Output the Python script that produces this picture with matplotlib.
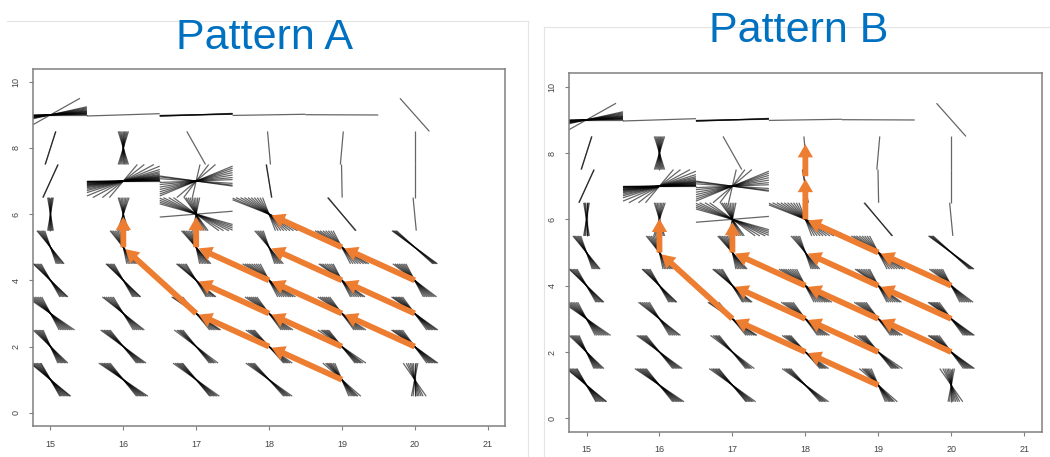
import numpy as np
import matplotlib
matplotlib.use("Agg")
import matplotlib.pyplot as plt
from matplotlib.collections import LineCollection
from matplotlib.lines import Line2D

plt.rcParams['font.family'] = ['Liberation Sans', 'DejaVu Sans']

# cell centres along x; every row below holds one list of line angles per x
grid_x = [15, 16, 17, 18, 19, 20]

# angles in degrees (data space) of the lines drawn through each cell centre
row_y1 = [
    [104.5, 106, 108, 110, 112, 114, 116, 118, 119],
    [110, 112, 114, 116, 118, 120, 122, 124],
    [110.5, 112, 114, 116, 118, 120, 122.5],
    [112, 114, 116, 118, 120, 122.5],
    [101, 103.5, 106, 108, 110, 112, 114, 117.5],
    [85, 87.5, 90, 92, 94.5, 97, 100, 103, 107.5],
]
row_y2 = [
    [101.5, 103.5, 105.5, 107.5, 109.5, 111.5, 113.5, 115.5],
    [110, 112, 114, 116, 118, 120, 122],
    [110, 112, 114, 116, 118, 121],
    [112, 114, 116, 118, 120, 122.5],
    [110, 112, 114, 116, 118, 120, 123.5],
    [108.5, 111, 113, 115, 117, 119, 121, 122.5],
]
row_y3 = [
    [103.5, 106, 108.5, 111, 113.5, 116, 118.5, 121, 123.5],
    [105.5, 108, 110.5, 113, 115.5, 118, 120],
    [110.5, 113, 115.5, 118, 120.5, 122.5, 124],
    [108.5, 111, 113.5, 116, 118.5, 121, 123.5],
    [108.5, 111, 113.5, 116, 118.5, 121, 123.5],
    [108.5, 111, 113, 115, 117, 119, 121, 122.5],
]
row_y4 = [
    [104.5, 106.5, 108.5, 110.5, 112.5, 114.5, 115.5],
    [104.5, 106.5, 108.5, 110.5, 112.5, 114.5, 115.5],
    [105.5, 107.5, 110, 112.5, 115, 117, 118.5],
    [103.5, 106.5, 109.5, 112.5, 115.5, 118.5, 121, 123.5, 126],
    [103.5, 106, 109, 112, 115, 118, 120.5, 122.5],
    [103.5, 106, 108.5, 111, 113.5, 116, 118.5, 121],
]
row_y5 = [
    [99, 101, 103, 105, 107, 109, 110.5],
    [95.5, 98, 100.5, 103, 105.5, 108, 110],
    [95.5, 98, 100.5, 103, 105.5, 108, 110, 112],
    [99, 101.5, 104, 106.5, 109, 111.5],
    [103.5, 107, 110.5, 114, 117.5, 121, 124, 126.5],
    [116.5, 118, 119.5, 121, 122],
]
row_y6 = [
    [85.5, 87, 88.5, 90, 91.5, 93, 94.5],
    [81, 83.5, 86, 88.5, 91, 93.5, 96, 98],
    [10, 84.5, 87.5, 90.5, 93.5, 96.5, 99.5, 102.5, 105.5, 108,
     122, 127, 132, 136, 140, 144, 148],
    [100, 104, 108, 112, 116, 120, 124, 128, 132, 136, 139],
    [110.5, 111.5],
    [92.5],
]
row_y7 = [
    [78, 78.5],
    [0, 1, 2, 3, 4, 6, 8, 10, 12, 14, 16, 19, 22, 26, 30, 35, 42, 50, 60, 69],
    [163, 166, 172, 5, 12, 20, 27, 33, 38, 42, 62, 71, 84],
    [94, 94.5],
    [90.5],
    [90],
]
row_y8 = [
    [81.5, 82],
    [82, 84, 86, 88, 90, 92, 94, 96, 98],
    [104.4],
    [92.3],
    [87.7],
    [90],
]
row_y9 = [
    [0, 1.5, 3, 4.5, 6, 8, 10, 12, 14, 17, 20, 23, 26, 51],
    [4],
    [2, 3, 4, 5],
    [2],
    [179.5],
    [112],
]
rows = {1: row_y1, 2: row_y2, 3: row_y3, 4: row_y4, 5: row_y5,
        6: row_y6, 7: row_y7, 8: row_y8, 9: row_y9}

# orange arrow chains (grid points visited in order)
chains_a = [
    [(19, 1), (18, 2), (17, 3), (16, 5), (16, 6)],
    [(19, 2), (18, 3), (17, 4)],
    [(20, 2), (19, 3), (18, 4), (17, 5), (17, 6)],
    [(20, 3), (19, 4), (18, 5)],
    [(20, 4), (19, 5), (18, 6)],
]
chains_b = [
    [(19, 1), (18, 2), (17, 3), (16, 5), (16, 6.1)],
    [(19, 2), (18, 3), (17, 4)],
    [(20, 2), (19, 3), (18, 4), (17, 5), (17, 6)],
    [(20, 3), (19, 4), (18, 5)],
    [(20, 4), (19, 5), (18, 6), (18, 7.3), (18, 8.35)],
]

W, H = 1050, 457
fig = plt.figure(figsize=(W / 100, H / 100), dpi=100)


def fan_segments():
    segs = []
    for cy, row in rows.items():
        for cx, angles in zip(grid_x, row):
            for a in angles:
                dx, dy = np.cos(np.radians(a)), np.sin(np.radians(a))
                t = min(0.5 / abs(dx) if abs(dx) > 1e-9 else 1e9,
                        0.5 / abs(dy) if abs(dy) > 1e-9 else 1e9)
                segs.append([(cx - t * dx, cy - t * dy), (cx + t * dx, cy + t * dy)])
    return segs


def draw_panel(rect, chains):
    ax = fig.add_axes(rect)
    ax.set_xlim(14.76, 21.24)
    ax.set_ylim(-0.4, 10.4)
    ax.add_collection(LineCollection(fan_segments(), colors='black',
                                     linewidths=0.9, alpha=0.6))
    for chain in chains:
        for p, q in zip(chain[:-1], chain[1:]):
            ax.annotate('', xy=q, xytext=p,
                        arrowprops=dict(arrowstyle='simple,head_length=0.95,head_width=1.1,tail_width=0.42',
                                        mutation_scale=10, color='#ED7D31',
                                        shrinkA=0, shrinkB=2, lw=0),
                        zorder=5)
    ax.set_xticks(range(15, 22))
    ax.set_yticks(range(0, 11, 2))
    for s in ax.spines.values():
        s.set_color('#808080')
        s.set_linewidth(1.1)
    ax.tick_params(length=3, width=0.8, color='#808080', labelsize=6.5,
                   labelcolor='#444444')
    ax.tick_params(axis='x', pad=7)
    ax.tick_params(axis='y', pad=6)
    for lab in ax.get_yticklabels():
        lab.set_rotation(90)
        lab.set_va('center')
    return ax


draw_panel([33 / W, 1 - 426 / H, 472 / W, 357.5 / H], chains_a)
draw_panel([569 / W, 1 - 431.6 / H, 472.7 / W, 358.2 / H], chains_b)

# faint screenshot borders
frame = '#e4e4e4'
for xs, ys in [([7, 528], [21, 21]), ([528, 528], [21, H]),
               ([544, W], [27, 27]), ([544, 544], [27, H])]:
    fig.add_artist(Line2D([x / W for x in xs], [1 - y / H for y in ys],
                          color=frame, lw=0.8, zorder=0))

fig.text(265 / W, 1 - 49 / H, 'Pattern A', ha='center', va='baseline',
         fontsize=31, color='#0070C0')
fig.text(799 / W, 1 - 41.7 / H, 'Pattern B', ha='center', va='baseline',
         fontsize=31, color='#0070C0')

fig.savefig('out.png', dpi=100)
